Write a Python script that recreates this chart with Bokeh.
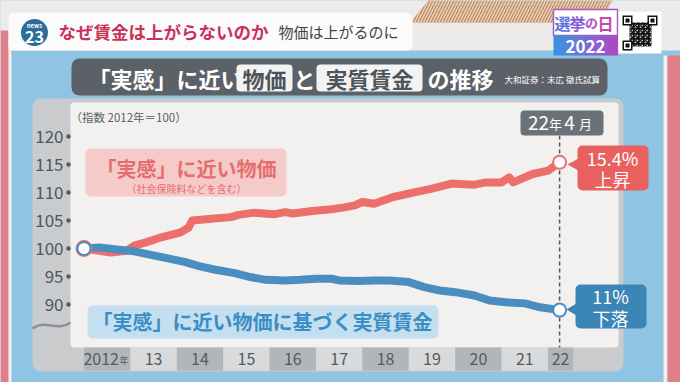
from bokeh.plotting import figure
from bokeh.models import Range1d
from bokeh.core.properties import value
from bokeh.embed import file_html
from bokeh.resources import INLINE

# ---------------- data ----------------
# months since Jan 2012
price_month = [0, 4, 7, 11, 13, 16, 20, 25, 27, 28, 33, 38, 40, 44, 49, 52, 54, 59,
               64, 67, 70, 72, 75, 80, 86, 90, 95, 101, 104, 108, 110, 111, 116, 120, 123]
price_index = [100.0, 99.6, 99.3, 99.6, 100.5, 101.1, 102.0, 102.9, 103.7, 105.0, 105.3,
               105.6, 106.0, 106.4, 106.1, 106.5, 106.25, 106.7, 107.0, 107.3, 107.7, 108.3,
               108.0, 109.2, 110.1, 110.7, 111.6, 111.4, 111.8, 111.8, 112.7, 111.8, 113.3,
               113.9, 115.4]
wage_month = [0, 4, 9, 13, 17, 22, 26, 30, 34, 39, 43, 47, 52, 56, 60, 64, 66, 71, 75, 79,
              84, 88, 92, 96, 101, 105, 109, 114, 118, 123]
wage_index = [100.0, 100.2, 99.8, 99.5, 98.9, 98.2, 97.6, 96.8, 96.2, 95.6, 94.9, 94.4,
              94.3, 94.4, 94.6, 94.6, 94.3, 94.2, 94.3, 94.3, 94.0, 93.1, 92.5, 92.2, 91.6,
              90.7, 90.4, 90.2, 89.5, 89.0]
year_labels = ["2012", "13", "14", "15", "16", "17", "18", "19", "20", "21", "22"]
y_ticks = [90, 95, 100, 105, 110, 115, 120]

JP = "Noto Sans CJK JP"

# ---------------- layout helpers (screen px -> data) ----------------
X0, PXM = 83.5, 46.4 / 12.0
def X(rx):
    return (rx - X0) / PXM
def Y(ry):
    return 100 + (248 - ry) / 5.6

p = figure(width=680, height=382, x_range=Range1d(X(0), X(680)), y_range=Range1d(Y(382), Y(0)),
           output_backend="svg", toolbar_location=None, x_axis_type=None, y_axis_type=None,
           min_border=0)
p.outline_line_color = None
p.background_fill_color = "#8fc4e2"
p.border_fill_color = "#8fc4e2"
p.xgrid.visible = False
p.ygrid.visible = False

def box(l, t, r, b, color, radius=0, line=None, lw=1):
    p.quad(left=[X(l)], right=[X(r)], top=[Y(t)], bottom=[Y(b)], fill_color=color,
           line_color=line, line_width=lw, border_radius=radius)

def txt(rx, ry, s, size, color, align="center", style="normal"):
    p.text(x=[X(rx)], y=[Y(ry)], text=[s], text_font=value(JP),
           text_font_size=value(f"{size}px"), text_color=color, text_align=align,
           text_baseline="middle", text_font_style=style)

# ---------------- background / TV frame ----------------
box(0, 0, 680, 50, "#ecebe9")
p.patch(x=[X(428), X(612), X(600), X(410)], y=[Y(0), Y(0), Y(22), Y(22)],
        fill_color="#bf8a60", line_color=None, hatch_pattern="right_diagonal_line",
        hatch_color="#e8d2bc", hatch_scale=6, hatch_weight=1.5)
box(0, 30, 8, 382, "#e07f88")
box(8, 40, 11, 382, "#f2eeee")
box(663, 55, 667, 382, "#f2eeee")
box(667, 55, 680, 382, "#e07f88")

# top banner
box(8, 12, 412, 50, "#fbfbfb", radius=6)
p.scatter(x=[X(34)], y=[Y(32)], size=27, marker="circle", fill_color="#2c6d9b", line_color=None)
txt(34, 24.5, "news", 6, "white", style="bold")
txt(34, 36, "23", 16, "white", style="bold")
txt(58, 31, "なぜ賃金は上がらないのか", 17.5, "#c9335a", align="left", style="bold")
txt(278, 31, "物価は上がるのに", 15, "#444444", align="left")

# election badge + QR
box(553, 9, 617, 35, "#ffffff", line="#a45ac8", lw=1.5)
grad = ["#3f8fe0", "#4f86df", "#5f7ddb", "#6f73d7", "#7f69d2", "#8f5fcd", "#9c54c9", "#a84bc4"]
w = (617 - 553) / len(grad)
for i, c in enumerate(grad):
    box(553 + i * w, 35, 553 + (i + 1) * w + 0.5, 55, c)
for cx, ch, col, fs in [(562, "選", "#6070e0", 16), (577, "挙", "#8a5ad8", 16),
                        (591, "の", "#b04ec8", 13), (605, "日", "#c848a8", 16)]:
    txt(cx, 22, ch, fs, col, style="bold")
txt(585, 45.5, "2022", 17, "white", style="bold")
box(618, 11, 661, 53, "#ffffff")
p.quad(left=[X(629)], right=[X(651)], top=[Y(22)], bottom=[Y(46)], fill_color="white",
       line_color=None, hatch_pattern="criss_cross", hatch_color="#111111", hatch_scale=5,
       hatch_weight=1.5)
for (qx, qy) in [(622, 15), (647, 15), (622, 40)]:
    box(qx, qy, qx + 10, qy + 10, "#111111")
    box(qx + 1.5, qy + 1.5, qx + 8.5, qy + 8.5, "#ffffff")
    box(qx + 3, qy + 3, qx + 7, qy + 7, "#111111")

# title bar
box(71, 58, 607, 95, "#5b6167", radius=8)
txt(88, 77, "「実感」に近い", 22, "white", align="left", style="bold")
box(236, 64, 292, 91, "#f3f3f3", radius=4)
txt(264, 77.5, "物価", 22, "#4e545a", style="bold")
txt(304, 77, "と", 22, "white", style="bold")
box(316, 64, 422, 91, "#f3f3f3", radius=4)
txt(369, 77.5, "実質賃金", 22, "#4e545a", style="bold")
txt(427, 77, "の推移", 22, "white", align="left", style="bold")
txt(504, 78, "大和証券：末広 徹氏試算", 8.5, "white", align="left")

# ---------------- chart panel ----------------
box(32, 98, 623, 371, "#c9cbcd", radius=8)
box(70, 102, 618, 347, "#f2f1f0", radius=4)
# year bands
band_l = [12 * k for k in range(len(year_labels))]
band_r = [12 * (k + 1) for k in range(len(year_labels) - 1)] + [price_month[-1] + 3.5]
band_c = ["#b3b6b9" if k % 2 == 0 else "#d8dadb" for k in range(len(year_labels))]
p.quad(left=band_l, right=band_r, top=[Y(347)] * len(band_l), bottom=[Y(370)] * len(band_l),
       fill_color=band_c, line_color=None)
lab_x = [(l + r) / 2 for l, r in zip(band_l, band_r)]
p.text(x=lab_x, y=[Y(358)] * len(lab_x), text=year_labels, text_font=value(JP),
       text_font_size=value("16px"), text_color="#555a5e", text_align="center",
       text_baseline="middle", x_offset=[-6] + [0] * (len(lab_x) - 1))
txt(119, 360, "年", 9, "#555a5e", align="left")

# y ticks
p.text(x=[X(63)] * len(y_ticks), y=y_ticks, text=[str(t) for t in y_ticks],
       text_font=value(JP), text_font_size=value("17px"), text_color="#52575b",
       text_align="right", text_baseline="middle")
p.scatter(x=[X(68)] * len(y_ticks), y=y_ticks, size=4.5, marker="circle",
          fill_color="#555a5e", line_color=None)
txt(70, 116, "（指数 2012年＝100）", 11.5, "#5b5f63", align="left")
p.bezier(x0=[X(32)], y0=[Y(328)], x1=[X(70)], y1=[Y(322)], cx0=[X(46)], cy0=[Y(318)],
         cx1=[X(56)], cy1=[Y(332)], line_color="#8d9195", line_width=2.5)

# series labels
box(85, 148, 286, 196, "#f5cbca", radius=5)
txt(186, 168, "「実感」に近い物価", 20, "#e66d6c", style="bold")
txt(186, 188, "（社会保険料などを含む）", 10, "#e66d6c")
box(87, 305, 438, 338, "#c3dff0", radius=5)
txt(262, 321, "「実感」に近い物価に基づく実質賃金", 20, "#3c8dc3", style="bold")

# date marker
end_m = price_month[-1]
p.segment(x0=[end_m], y0=[Y(135)], x1=[end_m], y1=[Y(347)], line_color="#555555",
          line_width=1.5, line_dash="4 3")
box(520, 110, 603, 135, "#6b7277", radius=4)
for cx, s, fs in [(538, "22", 19), (555, "年", 13), (569, "4", 19), (585, "月", 13)]:
    txt(cx, 122.5, s, fs, "white")

# series lines
p.line(price_month, price_index, line_color="#ec6f6c", line_width=8,
       line_join="round", line_cap="round")
p.line(wage_month, wage_index, line_color="#4a8ec0", line_width=8,
       line_join="round", line_cap="round")
p.scatter(x=[price_month[0]], y=[price_index[0]], size=15, marker="circle",
          fill_color="white", line_color="#ec6f6c", line_width=2)
p.scatter(x=[wage_month[0]], y=[wage_index[0]], size=13, marker="circle",
          fill_color="white", line_color="#4a8ec0", line_width=2)
p.scatter(x=[price_month[-1]], y=[price_index[-1]], size=13, marker="circle",
          fill_color="white", line_color="#ec6f6c", line_width=2)
p.scatter(x=[wage_month[-1]], y=[wage_index[-1]], size=13, marker="circle",
          fill_color="white", line_color="#4a8ec0", line_width=2)

# callouts
box(577, 145, 648, 190, "#e8615f", radius=5)
p.patch(x=[X(578), X(578), X(567)], y=[Y(158), Y(170), Y(164)], fill_color="#e8615f", line_color=None)
txt(612, 157, "15.4%", 18, "white")
txt(612, 178, "上昇", 18, "white")
box(575, 284, 646, 328, "#3b85b7", radius=5)
p.patch(x=[X(576), X(576), X(566)], y=[Y(303), Y(315), Y(309)], fill_color="#3b85b7", line_color=None)
txt(610, 295, "11%", 18, "white")
txt(610, 317, "下落", 18, "white")

open("out.html", "w").write(file_html(p, INLINE))
